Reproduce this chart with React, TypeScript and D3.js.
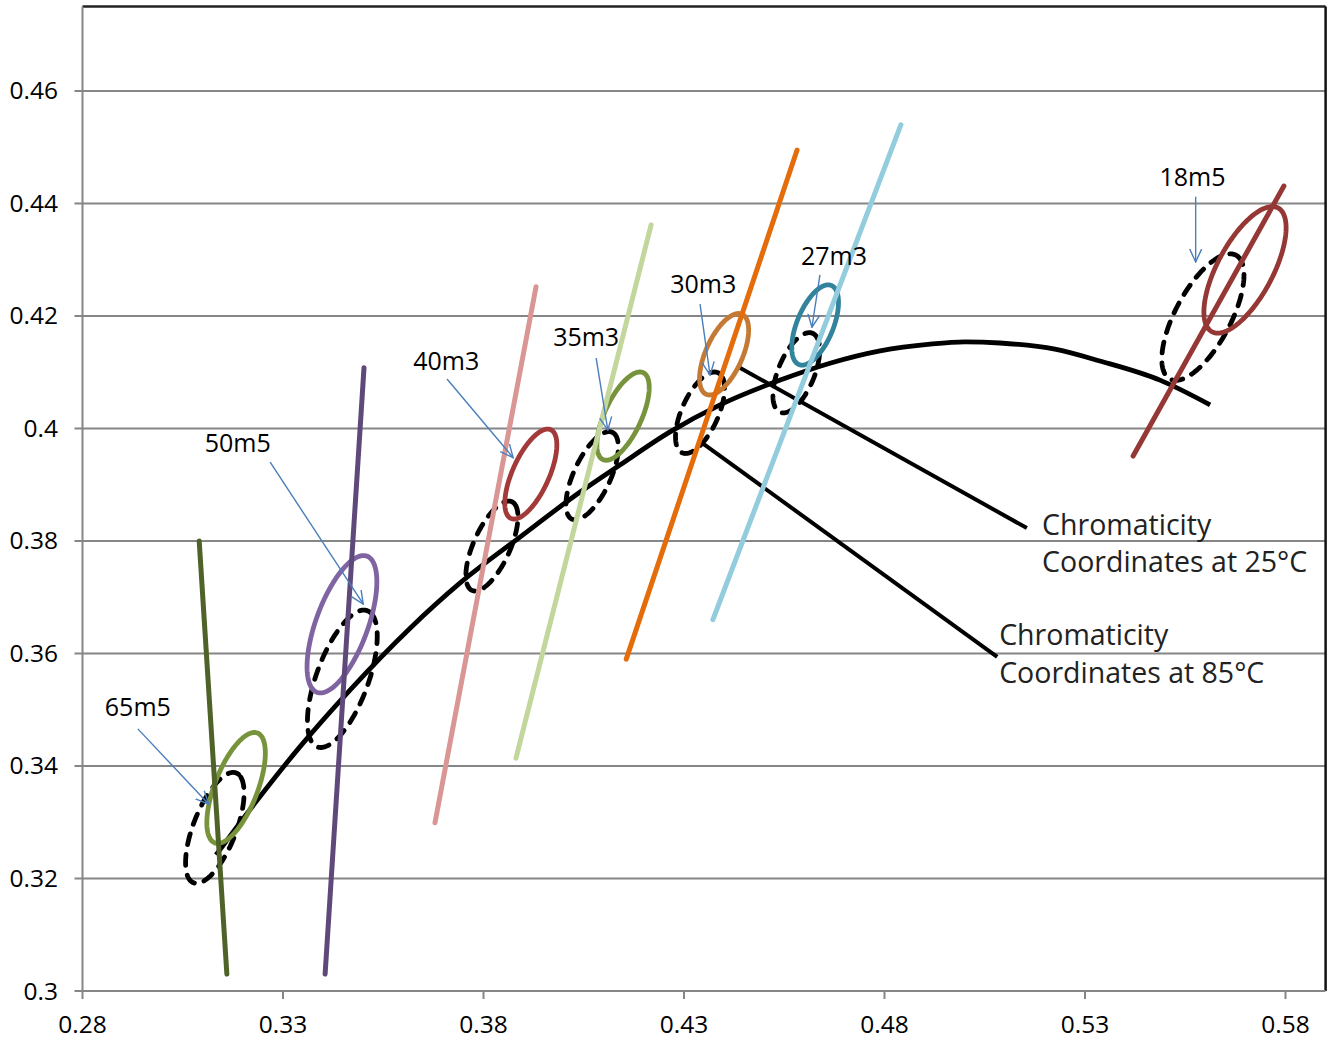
import React from "react";
import * as d3 from "d3";

// ---------- data ----------
const xTicks = [0.28, 0.33, 0.38, 0.43, 0.48, 0.53, 0.58];
const yTicks = [0.3, 0.32, 0.34, 0.36, 0.38, 0.4, 0.42, 0.44, 0.46];

// black chromaticity locus
const locusX = [0.3133, 0.323, 0.3342, 0.3467, 0.3617, 0.3741, 0.3891, 0.4041, 0.414, 0.4265, 0.439, 0.454, 0.4664, 0.4789, 0.4914, 0.5001, 0.5088, 0.5225, 0.5337, 0.5487, 0.5612];
const locusY = [0.3242, 0.3334, 0.3434, 0.3535, 0.3645, 0.3725, 0.3807, 0.3887, 0.3935, 0.3994, 0.4042, 0.4086, 0.4116, 0.4138, 0.415, 0.4154, 0.4152, 0.4141, 0.412, 0.4086, 0.4042];

// isotherm lines
const isoX1 = [0.3091, 0.3502, 0.3931, 0.4218, 0.4582, 0.4841, 0.5796];
const isoY1 = [0.38, 0.4108, 0.4252, 0.4362, 0.4495, 0.454, 0.4431];
const isoX2 = [0.316, 0.3405, 0.3679, 0.3881, 0.4156, 0.4372, 0.542];
const isoY2 = [0.303, 0.303, 0.3299, 0.3414, 0.359, 0.366, 0.3951];
const isoColors = ["#4f6228", "#5f497a", "#d99694", "#c3d69b", "#e46c0a", "#93cddd", "#953735"];

// ellipses
const ellNames = ["65m5", "50m5", "40m3", "35m3", "30m3", "27m3", "18m5"];
const at25Cx = [0.3183, 0.3447, 0.3918, 0.4148, 0.44, 0.4627, 0.5699];
const at25Cy = [0.3361, 0.3652, 0.3919, 0.4022, 0.4132, 0.4184, 0.4282];
const at85Cx = [0.313, 0.3448, 0.3821, 0.4071, 0.434, 0.458, 0.5594];
const at85Cy = [0.329, 0.3555, 0.3791, 0.3916, 0.4028, 0.4099, 0.4198];
const ellA = [0.0112, 0.0137, 0.0094, 0.0093, 0.0085, 0.0082, 0.0139];
const ellB = [0.005, 0.0061, 0.0042, 0.0042, 0.0042, 0.0042, 0.0062];
const ellTheta = [58, 59.6, 54, 53, 53, 55, 49];
const at25Colors = ["#77933c", "#8064a2", "#a33a3a", "#77933c", "#c47a35", "#31849b", "#953735"];

// labels with arrows
const labelX = [0.2938, 0.3187, 0.3707, 0.4056, 0.4348, 0.4674, 0.5568];
const labelY = [0.3489, 0.3958, 0.4104, 0.4147, 0.4241, 0.4291, 0.4431];
const arrowX1 = [0.2938, 0.3268, 0.3709, 0.4081, 0.434, 0.4639, 0.5576];
const arrowY1 = [0.3466, 0.394, 0.4088, 0.4125, 0.4221, 0.4273, 0.4412];
const arrowX2 = [0.3115, 0.35, 0.3874, 0.411, 0.4365, 0.4619, 0.5576];
const arrowY2 = [0.3332, 0.3688, 0.3948, 0.3997, 0.4095, 0.418, 0.4296];

// annotations
const noteLine1 = ["Chromaticity", "Chromaticity"];
const noteLine2 = ["Coordinates at 25°C", "Coordinates at 85°C"];
const noteFromX = [0.4437, 0.4338];
const noteFromY = [0.4109, 0.3978];
const noteToX = [0.5155, 0.5081];
const noteToY = [0.3823, 0.3594];
const noteTextX = [0.5193, 0.5086];
const noteTextY1 = [0.3811, 0.3615];
const noteTextY2 = [0.3745, 0.3548];

// ---------- layout ----------
const W = 1330;
const H = 1040;
const FONT = "'Open Sans', 'Noto Sans', sans-serif";

export default function App() {
  const x = d3.scaleLinear().domain([0.28, 0.59]).range([82.5, 1325.6]);
  const y = d3.scaleLinear().domain([0.3, 0.475]).range([991, 6.6]);

  const locusPath = d3
    .line<number>()
    .curve(d3.curveMonotoneX)
    .x((_, i) => x(locusX[i]))
    .y((_, i) => y(locusY[i]))(locusX) as string;

  const ellipsePath = (cx: number, cy: number, a: number, b: number, th: number) => {
    const r = (th * Math.PI) / 180;
    const ts = d3.range(0, 2 * Math.PI, Math.PI / 90);
    const pts = ts.map((t) => {
      const dx = a * Math.cos(t);
      const dy = b * Math.sin(t);
      return [x(cx + dx * Math.cos(r) - dy * Math.sin(r)), y(cy + dx * Math.sin(r) + dy * Math.cos(r))] as [number, number];
    });
    return d3.line().curve(d3.curveLinearClosed)(pts) as string;
  };

  const x0 = x.range()[0];
  const x1 = x.range()[1];
  const y0 = y.range()[0];
  const y1 = y.range()[1];

  return (
    <div style={{ position: "absolute", left: 0, top: 0 }}>
      <svg width={W} height={H} style={{ display: "block", background: "#fff" }}>
        <defs>
          <marker id="arr" viewBox="0 0 14 14" refX="13" refY="7" markerWidth="14" markerHeight="14" markerUnits="userSpaceOnUse" orient="auto">
            <path d="M0,1 L13,7 L0,13" fill="none" stroke="#4a7ebb" strokeWidth={1.4} />
          </marker>
        </defs>
        {/* gridlines */}
        {yTicks.slice(1).map((t) => (
          <line key={"g" + t} x1={x0} x2={x1} y1={y(t)} y2={y(t)} stroke="#868686" strokeWidth={2} />
        ))}
        {/* plot border top/right */}
        <line x1={x0} x2={x1} y1={y1} y2={y1} stroke="#222" strokeWidth={2.5} />
        <line x1={x1} x2={x1} y1={y1} y2={y0} stroke="#111" strokeWidth={2.5} />
        {/* axes */}
        <line x1={x0} x2={x0} y1={y1} y2={y0} stroke="#868686" strokeWidth={2} />
        <line x1={x0} x2={x1} y1={y0} y2={y0} stroke="#868686" strokeWidth={2} />
        {yTicks.map((t) => (
          <g key={"yt" + t}>
            <line x1={x0 - 8} x2={x0} y1={y(t)} y2={y(t)} stroke="#868686" strokeWidth={2} />
            <text x={58} y={y(t) + 8.5} textAnchor="end" fontFamily={FONT} fontSize={24.5} fill="#000">
              {String(+t.toFixed(2))}
            </text>
          </g>
        ))}
        {xTicks.map((t) => (
          <g key={"xt" + t}>
            <line x1={x(t)} x2={x(t)} y1={y0} y2={y0 + 8} stroke="#868686" strokeWidth={2} />
            <text x={x(t)} y={1033} textAnchor="middle" fontFamily={FONT} fontSize={24.5} fill="#000">
              {String(+t.toFixed(2))}
            </text>
          </g>
        ))}

        {/* annotation leader lines */}
        {noteFromX.map((_, i) => (
          <line key={"nl" + i} x1={x(noteFromX[i])} y1={y(noteFromY[i])} x2={x(noteToX[i])} y2={y(noteToY[i])} stroke="#000" strokeWidth={4} />
        ))}

        {/* locus */}
        <path d={locusPath} fill="none" stroke="#000" strokeWidth={4.8} strokeLinejoin="round" />

        {/* 85C dashed ellipses */}
        {ellNames.map((n, i) => (
          <path key={"d" + n} d={ellipsePath(at85Cx[i], at85Cy[i], ellA[i], ellB[i], ellTheta[i])} fill="none" stroke="#000" strokeWidth={4.8} strokeDasharray="11 10" strokeLinecap="round" />
        ))}
        {/* 25C solid ellipses */}
        {ellNames.map((n, i) => (
          <path key={"s" + n} d={ellipsePath(at25Cx[i], at25Cy[i], ellA[i], ellB[i], ellTheta[i])} fill="none" stroke={at25Colors[i]} strokeWidth={4.8} />
        ))}

        {/* isotherm lines */}
        {isoX1.map((_, i) => (
          <line key={"iso" + i} x1={x(isoX1[i])} y1={y(isoY1[i])} x2={x(isoX2[i])} y2={y(isoY2[i])} stroke={isoColors[i]} strokeWidth={5} strokeLinecap="round" />
        ))}

        {/* labels and arrows */}
        {ellNames.map((n, i) => (
          <g key={"lab" + n}>
            <line x1={x(arrowX1[i])} y1={y(arrowY1[i])} x2={x(arrowX2[i])} y2={y(arrowY2[i])} stroke="#4a7ebb" strokeWidth={1.4} markerEnd="url(#arr)" />
            <text x={x(labelX[i])} y={y(labelY[i])} textAnchor="middle" fontFamily={FONT} fontSize={25} fill="#000">
              {n}
            </text>
          </g>
        ))}

        {/* annotation texts */}
        {noteLine1.map((t, i) => (
          <g key={"nt" + i} fontFamily={FONT} fontSize={28.5} fill="#222">
            <text x={x(noteTextX[i])} y={y(noteTextY1[i])}>{t}</text>
            <text x={x(noteTextX[i])} y={y(noteTextY2[i])}>{noteLine2[i]}</text>
          </g>
        ))}
      </svg>
    </div>
  );
}
